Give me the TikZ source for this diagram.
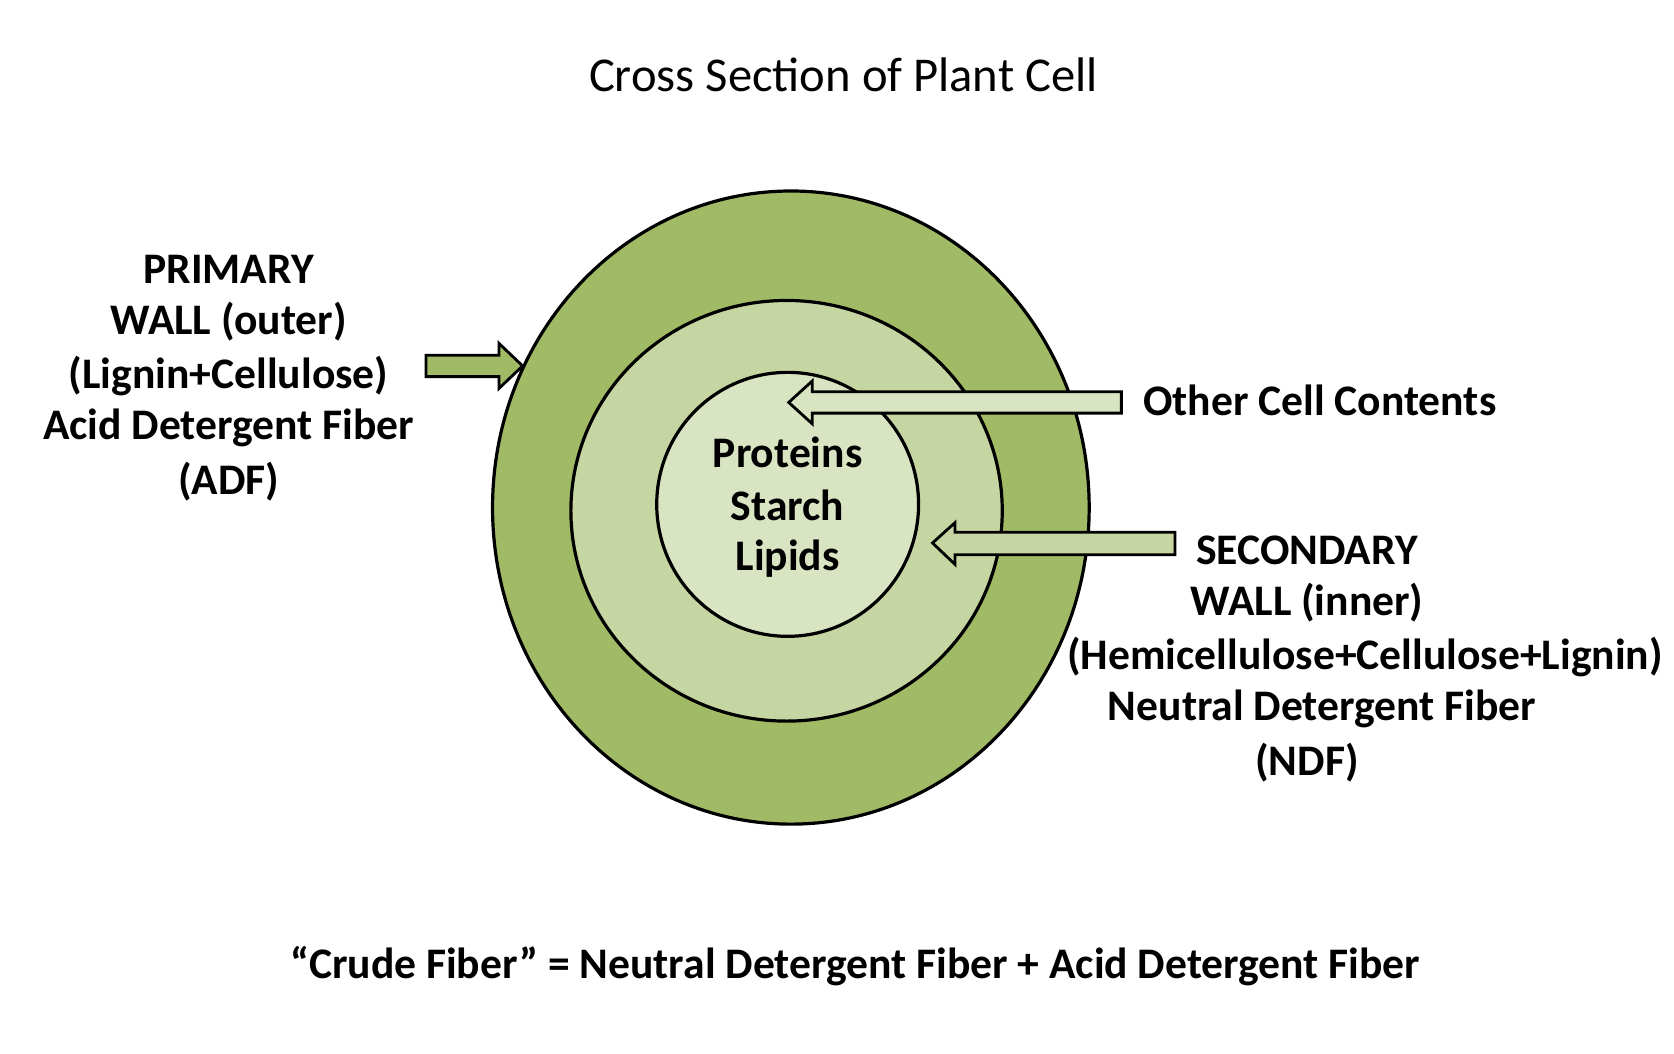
\documentclass[tikz,border=0pt]{standalone}
\usepackage{fontspec}
\setmainfont{Carlito}
\definecolor{outerg}{HTML}{A0BA66}
\definecolor{midg}{HTML}{C6D6A2}
\definecolor{inng}{HTML}{D9E4C3}
\begin{document}
\begin{tikzpicture}[x=0.5365pt,y=-0.5365pt,
  ring/.style={draw=black,line width=1.6pt},
  blockarrow/.style={draw=black,line width=1.4pt},
  lbl/.style={font=\fontsize{21.8}{24}\selectfont\bfseries,inner sep=0pt}]
\useasboundingbox (0,0) rectangle (1560,982);

% rings
\draw[ring,fill=outerg] (737,473) ellipse [x radius=278,y radius=295];
\draw[ring,fill=midg] (733,476) ellipse [x radius=201,y radius=196];
\draw[ring,fill=inng] (734,470) ellipse [x radius=122,y radius=123];

% block arrows
\draw[blockarrow,fill=outerg] (397,331) -- (465,331) -- (465,320) -- (487,341)
  -- (465,362) -- (465,351) -- (397,351) -- cycle;
\draw[blockarrow,fill=inng] (1045,365) -- (757,365) -- (757,355) -- (735,375)
  -- (757,395) -- (757,385) -- (1045,385) -- cycle;
\draw[blockarrow,fill=midg] (1095,496) -- (890,496) -- (890,487) -- (869,506)
  -- (890,526) -- (890,517) -- (1095,517) -- cycle;

% texts
\node[font=\fontsize{24.3}{27}\selectfont,inner sep=0pt] (title) at (786,70) {Cross Section of Plant Cell};
\node[lbl] (p1) at (213,251) {PRIMARY};
\node[lbl] (p2) at (213,300) {WALL (outer)};
\node[lbl] (p3) at (213,350) {(Lignin+Cellulose)};
\node[lbl] (p4) at (213,399) {Acid Detergent Fiber};
\node[lbl] (p5) at (213,449) {(ADF)};
\node[lbl,anchor=west] (oc) at (1065,373) {Other Cell Contents};
\node[lbl] (c1) at (734,422) {Proteins};
\node[lbl] (c2) at (734,471) {Starch};
\node[lbl] (c3) at (734,521) {Lipids};
\node[lbl] (s1) at (1218,513) {SECONDARY};
\node[lbl] (s2) at (1218,562) {WALL (inner)};
\node[lbl] (s3) at (1272,612) {(Hemicellulose+Cellulose+Lignin)};
\node[lbl] (s4) at (1232,661) {Neutral Detergent Fiber};
\node[lbl] (s5) at (1218,711) {(NDF)};
\node[lbl] (eq) at (797,900) {\char"201C Crude Fiber\char"201D{} = Neutral Detergent Fiber + Acid Detergent Fiber};
\end{tikzpicture}
\end{document}
